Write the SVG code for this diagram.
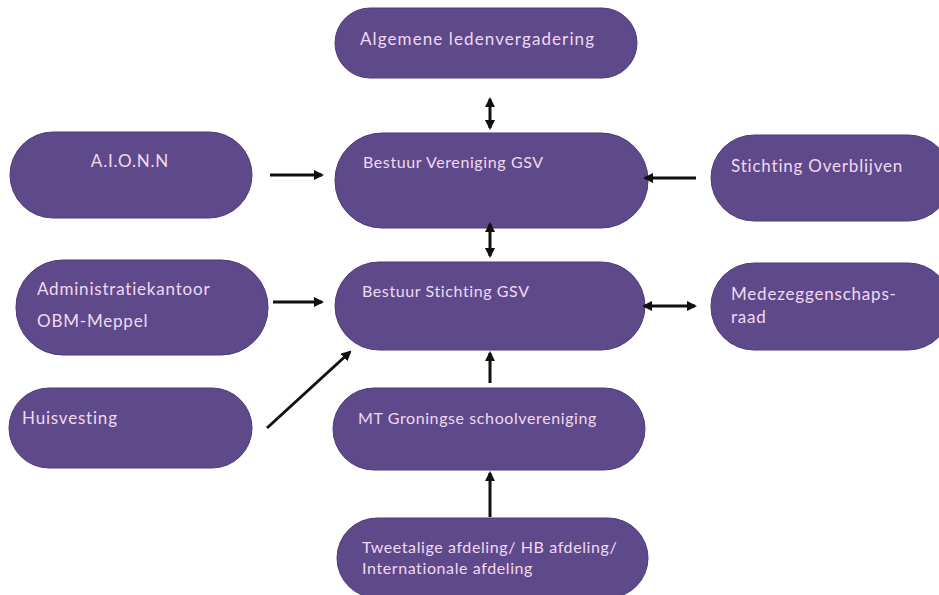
<svg xmlns="http://www.w3.org/2000/svg" width="939" height="595" viewBox="0 0 939 595">
<defs>
<style>
.n{fill:#5e4a8a;stroke:#4d3b78;stroke-width:1}
.t{font-family:Lato,"Open Sans","Liberation Sans",sans-serif;font-size:16px;letter-spacing:0.6px;fill:#f2d8f0}
.l{font-size:17px;letter-spacing:0.8px}
.c{stroke:#111;stroke-width:3;fill:none}
</style>
<marker id="a" viewBox="0 0 10 10" refX="8" refY="5" markerWidth="3.4" markerHeight="3.4" orient="auto-start-reverse">
<path d="M0,0 L10,5 L0,10 z" fill="#111"/>
</marker>
</defs>
<rect width="939" height="595" fill="#fff"/>
<g id="algemene"><rect class="n" x="335" y="8" width="302" height="70" rx="35"/><text class="t l" x="360" y="45" style="letter-spacing:1.1px">Algemene ledenvergadering</text></g>
<g id="vereniging"><rect class="n" x="335" y="133" width="313" height="95" rx="47"/><text class="t" x="363" y="168">Bestuur Vereniging GSV</text></g>
<g id="aionn"><rect class="n" x="10" y="132" width="242" height="86" rx="43"/><text class="t l" x="130" y="167" text-anchor="middle">A.I.O.N.N</text></g>
<g id="overblijven"><rect class="n" x="711" y="135" width="240" height="86" rx="43"/><text class="t l" x="731" y="172">Stichting Overblijven</text></g>
<g id="administratie"><rect class="n" x="16" y="260" width="252" height="95" rx="47"/><text class="t l" x="37" y="295">Administratiekantoor</text><text class="t l" x="37" y="327">OBM-Meppel</text></g>
<g id="stichting"><rect class="n" x="335" y="262" width="310" height="88" rx="44"/><text class="t" x="362" y="297">Bestuur Stichting GSV</text></g>
<g id="mr"><rect class="n" x="711" y="263" width="240" height="87" rx="43"/><text class="t l" x="731" y="300">Medezeggenschaps-</text><text class="t l" x="731" y="323">raad</text></g>
<g id="huisvesting"><rect class="n" x="9" y="388" width="243" height="80" rx="40"/><text class="t l" x="22" y="424">Huisvesting</text></g>
<g id="mt"><rect class="n" x="333" y="388" width="312" height="82" rx="41"/><text class="t" x="358" y="424">MT Groningse schoolvereniging</text></g>
<g id="tweetalige"><rect class="n" x="337" y="518" width="311" height="80" rx="40"/><text class="t" x="362" y="553">Tweetalige afdeling/ HB afdeling/</text><text class="t" x="362" y="574">Internationale afdeling</text></g>
<g id="connectors">
<line class="c" x1="490" y1="99" x2="490" y2="128" marker-start="url(#a)" marker-end="url(#a)"/>
<line class="c" x1="490" y1="224" x2="490" y2="256" marker-start="url(#a)" marker-end="url(#a)"/>
<line class="c" x1="270" y1="175" x2="322" y2="175" marker-end="url(#a)"/>
<line class="c" x1="696" y1="178" x2="645" y2="178" marker-end="url(#a)"/>
<line class="c" x1="273" y1="302" x2="322" y2="302" marker-end="url(#a)"/>
<line class="c" x1="644" y1="306" x2="695" y2="306" marker-start="url(#a)" marker-end="url(#a)"/>
<line class="c" x1="267" y1="428" x2="350" y2="352" marker-end="url(#a)"/>
<line class="c" x1="490" y1="383" x2="490" y2="353" marker-end="url(#a)"/>
<line class="c" x1="490" y1="517" x2="490" y2="473" marker-end="url(#a)"/>
</g>
</svg>
